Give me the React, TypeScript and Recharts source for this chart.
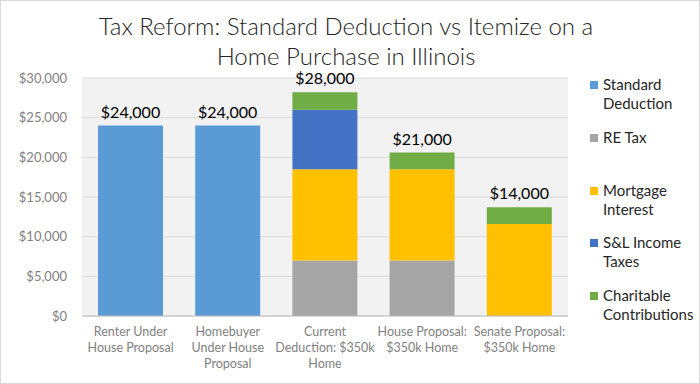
import { BarChart, Bar, XAxis, YAxis, CartesianGrid, LabelList } from "recharts"

const categories = [
    "Renter Under\nHouse Proposal",
    "Homebuyer\nUnder House\nProposal",
    "Current\nDeduction: $350k\nHome",
    "House Proposal:\n$350k Home",
    "Senate Proposal:\n$350k Home",
]
const standardDeduction = [24000, 24000, 0, 0, 0]
const reTax = [0, 0, 7000, 7000, 0]
const mortgageInterest = [0, 0, 11500, 11500, 11600]
const slIncomeTaxes = [0, 0, 7500, 0, 0]
const charitable = [0, 0, 2200, 2100, 2100]
const totalLabels = ["$24,000", "$24,000", "$28,000", "$21,000", "$14,000"]
const yTicks = [0, 5000, 10000, 15000, 20000, 25000, 30000]

const SERIES = [
    { key: "standard", name: "Standard\nDeduction", color: "#5b9bd5", values: standardDeduction },
    { key: "reTax", name: "RE Tax", color: "#a5a5a5", values: reTax },
    { key: "mortgage", name: "Mortgage\nInterest", color: "#ffc000", values: mortgageInterest },
    { key: "slTax", name: "S&L Income\nTaxes", color: "#4472c4", values: slIncomeTaxes },
    { key: "charitable", name: "Charitable\nContributions", color: "#70ad47", values: charitable },
]

const FONT = "Lato, 'Open Sans', sans-serif"

// tabela dla recharts, etykieta sumy tylko na gornej serii
const data = categories.map((cat, i) => {
    const row: Record<string, any> = { name: cat }
    let top = ""
    SERIES.forEach((s) => {
        row[s.key] = s.values[i]
        if (s.values[i] > 0) top = s.key
    })
    SERIES.forEach((s) => (row["lbl_" + s.key] = s.key === top ? totalLabels[i] : ""))
    return row
})

const legendTops = [84, 137, 190, 242, 295]

function XTick(props: any) {
    const { x, y, payload } = props
    const lines = String(payload.value).split("\n")
    return (
        <text x={x} y={y} textAnchor="middle" fill="#7f7f7f" fontSize={12.5} fontFamily={FONT}>
            {lines.map((l, i) => (
                <tspan key={i} x={x} dy={i === 0 ? 12 : 16}>
                    {l}
                </tspan>
            ))}
        </text>
    )
}

function TotalLabel(props: any) {
    const { x, y, width, value } = props
    if (!value) return null
    return (
        <text x={x + width / 2} y={y - 8} textAnchor="middle" fontSize={16} fill="#000" fontFamily={FONT}>
            {value}
        </text>
    )
}

function LegendBox() {
    return (
        <div style={{ position: "absolute", left: 589, top: 0, width: 110, height: 330 }}>
            {SERIES.map((s, i) => (
                <div key={s.key} style={{ position: "absolute", left: 0, top: legendTops[i] - 10 }}>
                    <div
                        style={{
                            position: "absolute",
                            left: 0,
                            top: 6,
                            width: 8,
                            height: 8,
                            background: s.color,
                        }}
                    />
                    <div
                        style={{
                            position: "absolute",
                            left: 13,
                            top: 0,
                            whiteSpace: "pre",
                            fontSize: 15,
                            lineHeight: "19px",
                            color: "#262626",
                            fontFamily: FONT,
                        }}
                    >
                        {s.name}
                    </div>
                </div>
            ))}
        </div>
    )
}

export default function App() {
    return (
        <div
            style={{
                position: "relative",
                width: 700,
                height: 384,
                boxSizing: "border-box",
                border: "1px solid #d9d9d9",
                background: "#fff",
                fontFamily: FONT,
            }}
        >
            <style>{`body{margin:0}`}</style>
            <div style={{ position: "absolute", left: -1, top: -1 }}>
                <BarChart
                    width={700}
                    height={384}
                    data={data}
                    margin={{ top: 78, right: 132, bottom: 8, left: 0 }}
                >
                    <CartesianGrid vertical={false} stroke="#d9d9d9" fill="#f2f2f2" />
                    <XAxis
                        dataKey="name"
                        tick={<XTick />}
                        tickLine={false}
                        axisLine={{ stroke: "#bfbfbf" }}
                        interval={0}
                        height={60}
                    />
                    <YAxis
                        width={82}
                        domain={[0, 30000]}
                        ticks={yTicks}
                        tickLine={false}
                        axisLine={false}
                        tickMargin={9}
                        tick={{ fill: "#7f7f7f", fontSize: 13, fontFamily: FONT }}
                        tickFormatter={(v: number) => `$${v.toLocaleString("en-US")}`}
                    />
                    {SERIES.map((s) => (
                        <Bar
                            key={s.key}
                            dataKey={s.key}
                            stackId="a"
                            fill={s.color}
                            barSize={65}
                            isAnimationActive={false}
                        >
                            <LabelList dataKey={"lbl_" + s.key} content={<TotalLabel />} />
                        </Bar>
                    ))}
                </BarChart>
            </div>
            <div
                style={{
                    position: "absolute",
                    left: 0,
                    top: 10,
                    width: 690,
                    textAlign: "center",
                    fontSize: 24,
                    lineHeight: "30px",
                    fontWeight: 300,
                    color: "#262626",
                }}
            >
                Tax Reform: Standard Deduction vs Itemize on a
                <br />
                Home Purchase in Illinois
            </div>
            <LegendBox />
        </div>
    )
}
